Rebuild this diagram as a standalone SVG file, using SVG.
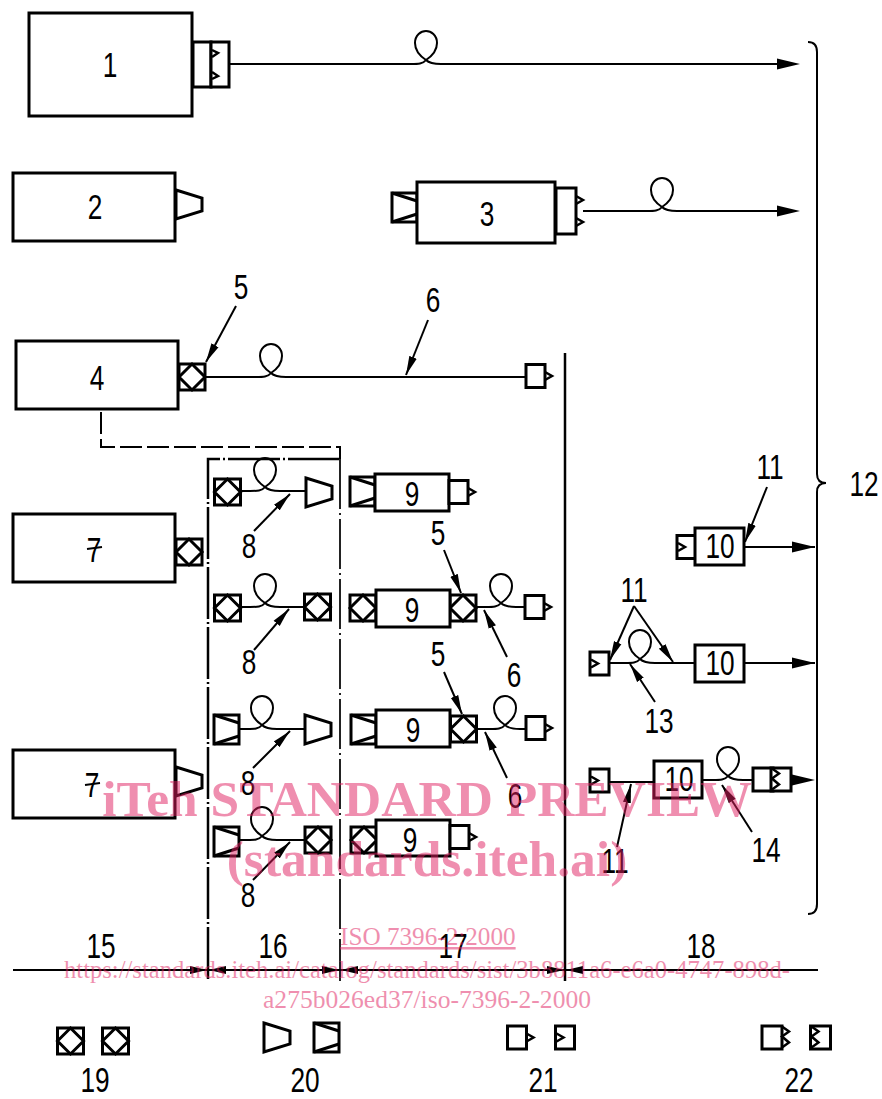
<svg xmlns="http://www.w3.org/2000/svg" width="882" height="1099" viewBox="0 0 882 1099">
<style>
.b{fill:#fff;stroke:#000;stroke-width:3}
.o{fill:none;stroke:#000;stroke-width:3;stroke-linejoin:miter}
.t{fill:none;stroke:#000;stroke-width:2.500}
.f{fill:none;stroke:#000;stroke-width:2}
.n{font-family:"Liberation Sans",Arial,sans-serif;font-size:35px;fill:#000;text-anchor:middle}
.w{font-family:"Liberation Serif","Times New Roman",serif;fill:rgb(225,31,97);opacity:.5}
.wb{font-weight:bold;font-size:51.500px;text-anchor:middle}
.ws{font-size:25.200px}
</style>
<defs>
<marker id="big" markerUnits="userSpaceOnUse" markerWidth="24" markerHeight="14" refX="23" refY="7" orient="auto"><path d="M0,1.500 L23,7 L0,12.500 Z" fill="#000"/></marker>
<marker id="lead" markerUnits="userSpaceOnUse" markerWidth="20" markerHeight="10" refX="19" refY="5" orient="auto"><path d="M0,1 L19,5 L0,9 Z" fill="#000"/></marker>
<marker id="dim" markerUnits="userSpaceOnUse" markerWidth="18" markerHeight="10" refX="17" refY="5" orient="auto"><path d="M0,1 L17,5 L0,9 Z" fill="#000"/></marker>
<g id="dia"><rect class="b" x="-13" y="-13" width="26" height="26"/><path class="o" d="M-13,0 L0,-13 L13,0 L0,13 Z"/></g>
<g id="cone"><path class="b" d="M0,-14 L26,-6 L26,7 L0,15 Z"/></g>
<g id="lconn"><rect class="b" x="0" y="-14" width="25" height="29"/><path class="o" d="M0,-14 L25,-6 M0,15 L25,7"/></g>
<g id="plug"><rect class="b" x="0" y="-11.500" width="19" height="23"/><path class="t" d="M19,-4 L26,0 L19,4"/></g>
<g id="sock"><rect class="b" x="0" y="-11.500" width="19" height="23"/><path class="t" d="M1,-4 L8,0 L1,4"/></g>
<g id="plug2"><rect class="b" x="0" y="-11.500" width="20" height="23"/><path class="t" d="M20,-11 L27,-6 L20,-1 L27,5 L20,10"/></g>
<g id="sock2"><rect class="b" x="0" y="-11.500" width="20" height="23"/><path class="t" d="M1,-11 L8,-6 L1,-1 L8,5 L1,10"/></g>
<path id="loop" class="f" d="M-15,0 C-8,0 -3,0 0,-4 C6,-8 11,-14 11,-21 C11,-29 5,-33 0,-33 C-5,-33 -11,-29 -11,-21 C-11,-14 -6,-8 0,-4 C3,-1 8,0 15,0"/>
</defs>

<g id="connectors">
<path class="f" d="M229,64 H411 M441,64 H778"/><use href="#loop" x="426" y="64"/>
<path class="f" d="M583,211 H647 M677,211 H778"/><use href="#loop" x="662" y="211"/>
<path class="f" d="M205,377 H256 M286,377 H526"/><use href="#loop" x="271" y="377"/>
<path class="f" d="M241,491 H250 M280,491 H306"/><use href="#loop" x="265" y="491"/>
<path class="f" d="M241,607 H250 M280,607 H304"/><use href="#loop" x="265" y="607"/>
<path class="f" d="M240,729 H247 M277,729 H305"/><use href="#loop" x="262" y="729"/>
<path class="f" d="M240,840 H247 M277,840 H305"/><use href="#loop" x="262" y="840"/>
<path class="f" d="M476,607 H486 M516,607 H525"/><use href="#loop" x="501" y="607"/>
<path class="f" d="M476,729 H490 M520,729 H526"/><use href="#loop" x="505" y="729"/>
<path class="f" d="M609,663 H625 M655,663 H695"/><use href="#loop" x="640" y="663"/>
<path class="f" d="M609,782 H654"/>
<path class="f" d="M702,780 H713 M743,780 H753"/><use href="#loop" x="728" y="780"/>
<path class="f" d="M744,547 H815" marker-end="url(#big)"/>
<path class="f" d="M744,663 H815" marker-end="url(#big)"/>
<path class="f" d="M792,780 H815" stroke-opacity="0" marker-end="url(#big)"/>
<path class="f" d="M777,211 H800" stroke-opacity="0" marker-end="url(#big)"/>
<path class="f" d="M777,64 H800" stroke-opacity="0" marker-end="url(#big)"/>
<path class="f" d="M236,306 L206,362" marker-end="url(#lead)"/>
<path class="f" d="M428,320 L406,375" marker-end="url(#lead)"/>
<path class="f" d="M254,531 L290,494" marker-end="url(#lead)"/>
<path class="f" d="M254,650 L289,609" marker-end="url(#lead)"/>
<path class="f" d="M253,768 L290,731" marker-end="url(#lead)"/>
<path class="f" d="M253,880 L290,842" marker-end="url(#lead)"/>
<path class="f" d="M444,550 L461,593" marker-end="url(#lead)"/>
<path class="f" d="M444,672 L462,714" marker-end="url(#lead)"/>
<path class="f" d="M507,657 L484,610" marker-end="url(#lead)"/>
<path class="f" d="M507,778 L485,732" marker-end="url(#lead)"/>
<path class="f" d="M767,487 L745,542" marker-end="url(#lead)"/>
<path class="f" d="M634,606 L610,660" marker-end="url(#lead)"/>
<path class="f" d="M634,606 L673,662" marker-end="url(#lead)"/>
<path class="f" d="M655,702 L630,664" marker-end="url(#lead)"/>
<path class="f" d="M617,847 L631,784" marker-end="url(#lead)"/>
<path class="f" d="M752,832 L722,785" marker-end="url(#lead)"/>
<path class="f" d="M101,412 V447 H340 V459" stroke-dasharray="22,5"/>
<path d="M340,459 H208 V981" fill="none" stroke="#000" stroke-width="2.500" stroke-dasharray="52,3,2,3"/>
<path d="M340,459 V981" fill="none" stroke="#222" stroke-width="2" stroke-dasharray="50,4,2,4"/>
<path d="M565,353 V981" fill="none" stroke="#000" stroke-width="2.500"/>
<path class="f" d="M808,42 Q817,42 817,52 V474 Q817,483 826,483 Q817,483 817,492 V904 Q817,914 808,914"/>
<path d="M13,970 H818" fill="none" stroke="#000" stroke-width="2"/>
<path class="f" d="M188,970 H207" marker-end="url(#dim)"/>
<path class="f" d="M228,970 H209" marker-end="url(#dim)"/>
<path class="f" d="M320,970 H339" marker-end="url(#dim)"/>
<path class="f" d="M360,970 H341" marker-end="url(#dim)"/>
<path class="f" d="M545,970 H564" marker-end="url(#dim)"/>
<path class="f" d="M585,970 H566" marker-end="url(#dim)"/>
</g>

<g id="node-1"><rect class="b" x="29" y="13" width="163" height="103"/><rect class="b" x="193" y="42" width="18" height="45"/><rect class="b" x="211" y="42" width="18" height="45"/><path class="t" d="M212,50 L218,53 L212,57 M212,72 L218,76 L212,79"/><text class="n" transform="translate(110 77) scale(.75 1)">1</text></g>
<g id="node-2"><rect class="b" x="13" y="173" width="162" height="68"/><use href="#cone" x="176" y="204"/><text class="n" transform="translate(95 219) scale(.75 1)">2</text></g>
<g id="node-3"><use href="#lconn" x="392" y="207"/><rect class="b" x="417" y="182" width="138" height="61"/><rect class="b" x="556" y="188" width="20" height="46"/><path class="t" d="M576,196 L583,200 L576,204 M576,218 L583,222 L576,226"/><text class="n" transform="translate(487 226) scale(.75 1)">3</text></g>
<g id="node-4"><rect class="b" x="16" y="341" width="162" height="68"/><use href="#dia" x="192" y="377"/><text class="n" transform="translate(97 390) scale(.75 1)">4</text></g>
<g id="node-4-end"><use href="#plug" x="526" y="376"/></g>
<g id="node-7a"><rect class="b" x="13" y="514" width="162" height="68"/><use href="#dia" x="189" y="552"/><text class="n" transform="translate(94 562) scale(.75 1)">7</text><path class="f" d="M87,549 L102,547"/></g>
<g id="node-7b"><rect class="b" x="13" y="750" width="162" height="68"/><use href="#cone" x="176" y="781"/><text class="n" transform="translate(92 797) scale(.75 1)">7</text><path class="f" d="M85,785 L100,783"/></g>

<g id="node-16-1"><use href="#dia" x="227.500" y="492"/><use href="#cone" x="306" y="492"/></g>
<g id="node-16-2"><use href="#dia" x="227.500" y="608"/><use href="#dia" x="317.500" y="607"/></g>
<g id="node-16-3"><use href="#lconn" x="214" y="729"/><use href="#cone" x="305" y="729"/></g>
<g id="node-16-4"><use href="#lconn" x="214" y="841"/><use href="#dia" x="318" y="840"/></g>

<g id="node-9a"><use href="#lconn" x="350" y="491"/><rect class="b" x="375" y="474" width="74" height="37"/><use href="#plug" x="449" y="492"/><text class="n" transform="translate(412 506) scale(.75 1)">9</text></g>
<g id="node-9b"><use href="#dia" x="363" y="608"/><use href="#dia" x="463" y="608"/><rect class="b" x="376" y="590" width="74" height="37"/><use href="#plug" x="525" y="607"/><text class="n" transform="translate(412 622) scale(.75 1)">9</text></g>
<g id="node-9c"><use href="#lconn" x="351" y="729"/><use href="#dia" x="463.500" y="729"/><rect class="b" x="376" y="710" width="74" height="37"/><use href="#plug" x="526" y="728"/><text class="n" transform="translate(413 742) scale(.75 1)">9</text></g>
<g id="node-9d"><use href="#dia" x="364" y="840"/><rect class="b" x="376" y="820" width="74" height="36"/><use href="#plug" x="450" y="837"/><text class="n" transform="translate(410 852) scale(.75 1)">9</text></g>

<g id="node-10a"><use href="#sock" x="677" y="547"/><rect class="b" x="695" y="528" width="49" height="37"/><text class="n" transform="translate(720 558) scale(.75 1)">10</text></g>
<g id="node-10b"><use href="#sock" x="590" y="663.500"/><rect class="b" x="695" y="645" width="49" height="37"/><text class="n" transform="translate(720 675) scale(.75 1)">10</text></g>
<g id="node-10c"><use href="#sock" x="590" y="780.500"/><rect class="b" x="654" y="761" width="48" height="37"/><text class="n" transform="translate(679 791) scale(.75 1)">10</text><use href="#plug2" x="753" y="779.500"/><use href="#sock2" x="771" y="779.500"/></g>

<g id="labels">
<text class="n" transform="translate(241 299) scale(.75 1)">5</text>
<text class="n" transform="translate(433 312) scale(.75 1)">6</text>
<text class="n" transform="translate(438 545) scale(.75 1)">5</text>
<text class="n" transform="translate(438 666) scale(.75 1)">5</text>
<text class="n" transform="translate(514 687) scale(.75 1)">6</text>
<text class="n" transform="translate(515 808) scale(.75 1)">6</text>
<text class="n" transform="translate(249 558) scale(.75 1)">8</text>
<text class="n" transform="translate(249 674) scale(.75 1)">8</text>
<text class="n" transform="translate(248 795) scale(.75 1)">8</text>
<text class="n" transform="translate(248 907) scale(.75 1)">8</text>
<text class="n" transform="translate(770 479) scale(.75 1)">11</text>
<text class="n" transform="translate(634 602) scale(.75 1)">11</text>
<text class="n" transform="translate(615 873) scale(.75 1)">11</text>
<text class="n" transform="translate(864 496) scale(.75 1)">12</text>
<text class="n" transform="translate(659 733) scale(.75 1)">13</text>
<text class="n" transform="translate(766 862) scale(.75 1)">14</text>
<text class="n" transform="translate(101 958) scale(.75 1)">15</text>
<text class="n" transform="translate(273 958) scale(.75 1)">16</text>
<text class="n" transform="translate(453 958) scale(.75 1)">17</text>
<text class="n" transform="translate(701 958) scale(.75 1)">18</text>
<text class="n" transform="translate(95 1091.500) scale(.75 1)">19</text>
<text class="n" transform="translate(305 1091.500) scale(.75 1)">20</text>
<text class="n" transform="translate(543 1091.500) scale(.75 1)">21</text>
<text class="n" transform="translate(799 1091.500) scale(.75 1)">22</text>
</g>

<g id="legend">
<use href="#dia" x="70.500" y="1041"/><use href="#dia" x="115.500" y="1041"/>
<use href="#cone" x="264" y="1037"/><use href="#lconn" x="314" y="1037"/>
<use href="#plug" x="507.500" y="1037.500"/><use href="#sock" x="555.500" y="1037.500"/>
<use href="#plug2" x="762" y="1037.500"/><use href="#sock2" x="810.500" y="1037.500"/>
</g>

<g id="watermark">
<text class="w wb" x="427" y="816">iTeh STANDARD PREVIEW</text>
<text class="w wb" x="427" y="876">(standards.iteh.ai)</text>
<text class="w ws" x="340" y="945" text-decoration="underline">ISO 7396-2:2000</text>
<text class="w ws" x="64" y="978" textLength="726" lengthAdjust="spacingAndGlyphs">https://standards.iteh.ai/catalog/standards/sist/3b8811a6-e6a0-4747-898d-</text>
<text class="w ws" x="263" y="1008" textLength="328" lengthAdjust="spacingAndGlyphs">a275b026ed37/iso-7396-2-2000</text>
</g>
</svg>
